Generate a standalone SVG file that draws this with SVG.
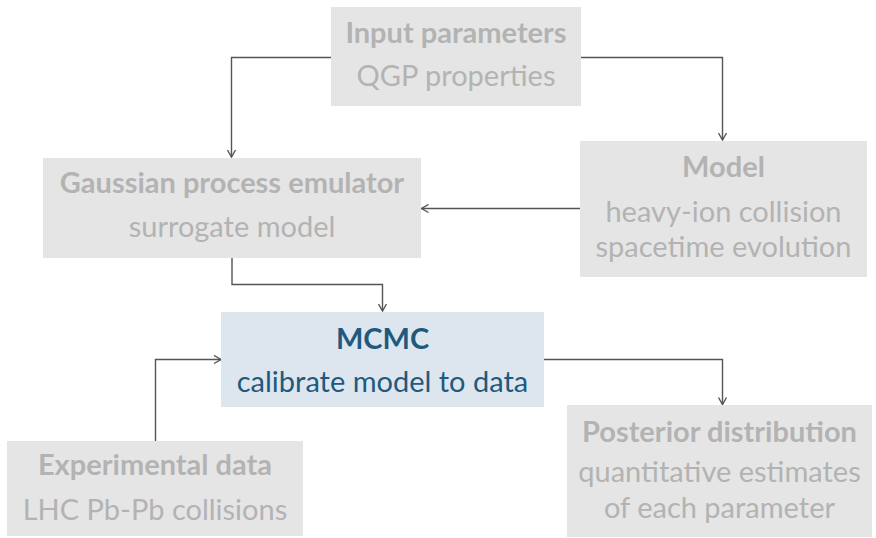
<svg xmlns="http://www.w3.org/2000/svg" width="876" height="538" viewBox="0 0 876 538">
<style>
.box{fill:#e5e5e5}
.hl{fill:#dde6ee}
.t{font-family:Lato,"Liberation Sans",sans-serif;font-size:29px;text-anchor:middle;fill:#b3b3b3}
.b{font-weight:bold}
.ht{fill:#1f5a7e}
.c{fill:none;stroke:#555;stroke-width:1.4}
</style>
<defs>
<marker id="ah" viewBox="0 0 10 10" refX="9" refY="5" markerWidth="10" markerHeight="10" markerUnits="userSpaceOnUse" orient="auto">
<path d="M2,1 L9,5 L2,9" fill="none" stroke="#555" stroke-width="1.4"/>
</marker>
</defs>
<g id="connectors">
<path class="c" d="M331,57.5 H231.5 V157" marker-end="url(#ah)"/>
<path class="c" d="M581,57.5 H722.5 V140" marker-end="url(#ah)"/>
<path class="c" d="M580,208.5 H421.5" marker-end="url(#ah)"/>
<path class="c" d="M232,258 V284.5 H382.5 V311" marker-end="url(#ah)"/>
<path class="c" d="M155.5,441 V359.5 H221" marker-end="url(#ah)"/>
<path class="c" d="M544,359.5 H722.5 V404.5" marker-end="url(#ah)"/>
</g>
<g id="input">
<rect class="box" x="331" y="7" width="250" height="99"/>
<text class="t b" x="456" y="43">Input parameters</text>
<text class="t" x="456" y="86">QGP properties</text>
</g>
<g id="gp">
<rect class="box" x="43" y="158" width="378" height="100"/>
<text class="t b" x="232" y="193">Gaussian process emulator</text>
<text class="t" x="232" y="237">surrogate model</text>
</g>
<g id="model">
<rect class="box" x="580" y="141" width="287" height="136"/>
<text class="t b" x="723.5" y="177">Model</text>
<text class="t" x="723.5" y="222">heavy-ion collision</text>
<text class="t" x="723.5" y="257">spacetime evolution</text>
</g>
<g id="mcmc">
<rect class="hl" x="221" y="312" width="323" height="95"/>
<text class="t b ht" x="382.5" y="349">MCMC</text>
<text class="t ht" x="382.5" y="392">calibrate model to data</text>
</g>
<g id="exp">
<rect class="box" x="7" y="441" width="296" height="95"/>
<text class="t b" x="155" y="475">Experimental data</text>
<text class="t" x="155" y="520">LHC Pb-Pb collisions</text>
</g>
<g id="posterior">
<rect class="box" x="567" y="405" width="305" height="132"/>
<text class="t b" x="719.5" y="442">Posterior distribution</text>
<text class="t" x="719.5" y="482">quantitative estimates</text>
<text class="t" x="719.5" y="518">of each parameter</text>
</g>
</svg>
